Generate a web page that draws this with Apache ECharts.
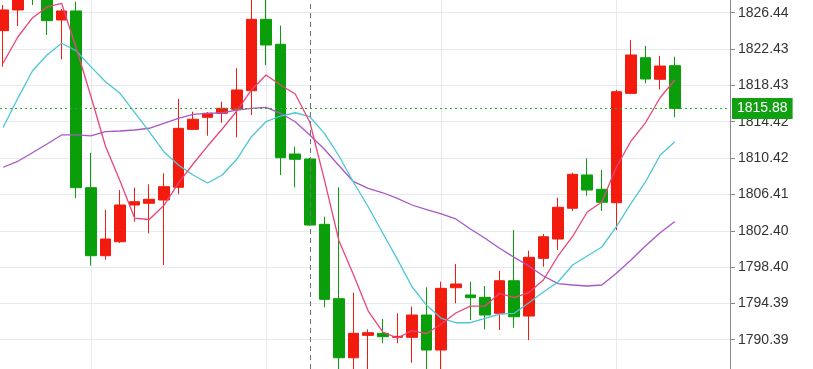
<!DOCTYPE html>
<html><head><meta charset="utf-8">
<script src="https://cdn.jsdelivr.net/npm/echarts@6/dist/echarts.min.js"></script>
<style>html,body{margin:0;padding:0;background:#fff}#c{width:813px;height:369px}</style>
</head><body><div id="c"></div>
<script>
const candleIndex = [0,1,2,3,4,5,6,7,8,9,10,11,12,13,14,15,16,17,18,19,20,21,22,23,24,25,26,27,28,29,30,31,32,33,34,35,36,37,38,39,40,41,42,43,44,45,46];
const opens = [1824.46,1826.74,1830.05,1828.39,1825.64,1826.63,1807.15,1799.65,1801.19,1805.24,1805.43,1805.79,1807.19,1813.58,1814.91,1815.35,1815.79,1817.84,1825.71,1822.96,1810.86,1810.31,1803.11,1794.91,1788.40,1790.87,1791.09,1790.65,1790.65,1793.11,1789.25,1796.12,1795.32,1795.06,1793.30,1796.89,1793.00,1799.36,1801.49,1804.88,1808.55,1806.97,1805.49,1817.55,1821.48,1819.10,1820.60];
const closes = [1826.74,1828.17,1828.17,1825.56,1826.63,1807.15,1799.65,1801.49,1805.24,1805.60,1805.87,1807.26,1813.69,1814.69,1815.35,1815.90,1817.92,1825.71,1822.88,1810.45,1810.28,1803.03,1794.84,1788.40,1791.09,1791.16,1790.72,1790.76,1793.11,1789.25,1796.05,1796.53,1795.02,1793.11,1796.89,1792.92,1799.47,1801.74,1804.99,1808.62,1806.89,1805.54,1817.73,1821.78,1819.13,1820.56,1815.88];
const lows = [1820.49,1824.97,1827.29,1823.98,1821.30,1806.01,1798.55,1799.21,1801.05,1803.40,1802.12,1798.62,1806.42,1813.50,1812.88,1814.31,1812.70,1815.16,1820.67,1808.55,1807.19,1802.92,1793.96,1786.83,1786.83,1786.50,1789.99,1789.99,1787.85,1786.83,1786.50,1794.40,1792.56,1791.53,1791.46,1791.71,1790.35,1798.44,1800.28,1804.58,1806.26,1804.58,1802.48,1817.44,1818.66,1817.99,1814.91];
const highs = [1827.29,1828.72,1830.60,1828.94,1826.85,1827.65,1811.00,1804.69,1806.89,1807.15,1807.52,1808.73,1816.93,1815.53,1815.49,1816.63,1820.31,1828.39,1828.17,1825.01,1811.67,1810.42,1803.95,1807.19,1795.57,1791.53,1792.67,1793.30,1794.03,1796.16,1796.78,1798.73,1796.78,1796.31,1797.99,1802.48,1800.20,1802.04,1806.04,1808.80,1810.39,1809.10,1817.92,1823.43,1822.77,1821.67,1821.59];
const maFast = [1820.89,1823.76,1825.86,1827.07,1827.48,1822.55,1817.26,1811.74,1807.88,1803.80,1803.64,1805.18,1807.66,1809.76,1811.74,1813.62,1815.60,1817.92,1819.57,1818.47,1817.48,1814.39,1808.00,1801.27,1797.52,1793.55,1791.24,1790.57,1791.40,1791.07,1792.12,1793.33,1794.10,1794.10,1795.50,1795.04,1795.59,1796.97,1799.62,1801.77,1804.47,1805.57,1809.43,1812.29,1814.33,1817.09,1819.02];
const maMid = [1813.81,1817.00,1820.01,1821.78,1823.07,1822.25,1820.49,1818.83,1817.55,1815.44,1813.32,1811.12,1809.65,1808.55,1807.66,1808.55,1810.28,1812.77,1814.42,1815.05,1815.41,1814.97,1813.14,1810.64,1807.72,1805.05,1802.12,1799.25,1796.23,1794.18,1792.75,1792.26,1792.26,1792.75,1793.22,1793.30,1794.47,1795.65,1796.75,1798.62,1799.62,1800.61,1802.85,1805.43,1807.81,1810.75,1812.22];
const maSlow = [1809.40,1810.06,1811.00,1811.96,1812.96,1812.96,1812.85,1813.32,1813.40,1813.51,1813.70,1814.25,1814.80,1815.24,1815.35,1815.41,1815.71,1815.90,1816.01,1815.35,1814.42,1812.96,1811.38,1809.57,1807.81,1807.08,1806.59,1805.98,1805.24,1804.74,1804.25,1803.70,1802.59,1801.57,1800.47,1799.47,1798.51,1797.41,1796.58,1796.42,1796.31,1796.42,1797.71,1799.17,1800.75,1802.18,1803.42];
const yTicks = [1790.39,1794.39,1798.40,1802.40,1806.41,1810.42,1814.42,1818.43,1822.43,1826.44];
const verticalGridAt = [6,18,30,42];
const lastPrice = 1815.88;
const crosshairIndex = 21;

const chart = echarts.init(document.getElementById('c'), null, {renderer: 'canvas'});
const candleData = candleIndex.map((x, i) => [x, opens[i], closes[i], lows[i], highs[i]]);
const toLine = arr => candleIndex.map((x, i) => [x, arr[i]]);
const gridColor = '#e6e9ef';
const option = {
  animation: false,
  backgroundColor: '#ffffff',
  grid: {left: 0, right: 83, top: 0, bottom: 0, outerBoundsMode: 'none'},
  xAxis: {
    type: 'value', min: -0.22, max: 49.78,
    axisLine: {show: false, onZero: false}, axisLabel: {show: false},
    axisTick: {show: false, customValues: verticalGridAt},
    splitLine: {show: true, lineStyle: {color: gridColor, width: 1}}
  },
  yAxis: {
    type: 'value', position: 'right', min: 1787.16, max: 1827.84,
    axisLine: {show: true, onZero: false, lineStyle: {color: '#8a8a8a'}},
    axisTick: {show: true, length: 5, customValues: yTicks, lineStyle: {color: '#8a8a8a'}},
    axisLabel: {customValues: yTicks, formatter: v => v.toFixed(2), color: '#333', fontFamily: 'Liberation Sans', fontSize: 14, margin: 8},
    splitLine: {show: true, lineStyle: {color: gridColor, width: 1}}
  },
  series: [
    {
      type: 'candlestick',
      data: candleData,
      encode: {x: 0, y: [1, 2, 3, 4]},
      barWidth: 11,
      itemStyle: {color: '#f21b0d', color0: '#0a9f0a', borderColor: '#f21b0d', borderColor0: '#0a9f0a', borderWidth: 1},
      markLine: {
        silent: true, symbol: ['none', 'none'], animation: false,
        data: [
          {yAxis: lastPrice, lineStyle: {color: '#22b022', type: [2, 3], width: 1},
           label: {show: true, position: 'end', distance: 2, formatter: () => lastPrice.toFixed(2), backgroundColor: '#12a012', color: '#fff', padding: [4, 5, 3, 5], fontSize: 14, fontFamily: 'Liberation Sans'}},
          {xAxis: crosshairIndex, lineStyle: {color: '#6b7380', type: [5, 4], width: 1}, label: {show: false}}
        ]
      }
    },
    {type: 'line', data: toLine(maSlow), showSymbol: false, lineStyle: {color: '#a957c4', width: 1.3}, itemStyle: {color: '#a957c4'}},
    {type: 'line', data: toLine(maMid), showSymbol: false, lineStyle: {color: '#4cc6d6', width: 1.3}, itemStyle: {color: '#4cc6d6'}},
    {type: 'line', data: toLine(maFast), showSymbol: false, lineStyle: {color: '#e8457c', width: 1.3}, itemStyle: {color: '#e8457c'}}
  ]
};
chart.setOption(option);
</script>
</body></html>
